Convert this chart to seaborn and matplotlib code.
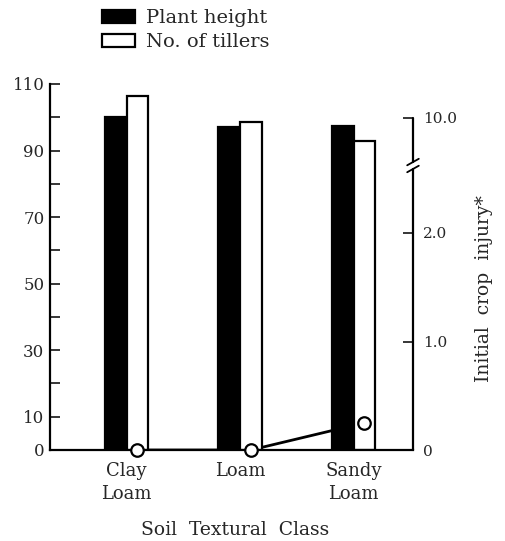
import numpy as np
import pandas as pd
import matplotlib
matplotlib.use("Agg")
import matplotlib.pyplot as plt
import seaborn as sns

# data
soils = ["Clay\nLoam", "Loam", "Sandy\nLoam"]
plant_height = [100, 97, 97.5]
tillers = [106.5, 98.5, 93]
injury = [0, 0, 0.25]
series = ["Plant height", "No. of tillers"]

df = pd.DataFrame({
    "soil": soils * 2,
    "value": plant_height + tillers,
    "series": [series[0]] * 3 + [series[1]] * 3,
})

sns.set_style("white")
plt.rcParams["font.family"] = ["DejaVu Serif"]
plt.rcParams["font.size"] = 12

fig = plt.figure(figsize=(5.05, 5.41), dpi=100)
ax1 = fig.add_axes([50 / 505, 91 / 541, 363 / 505, 366 / 541])
ax2 = ax1.twinx()

bar_w = 0.38
sns.barplot(
    data=df, x="soil", y="value", hue="series", ax=ax1,
    palette={series[0]: "black", series[1]: "white"},
    saturation=1, width=bar_w, errorbar=None,
    edgecolor="black", linewidth=1.6,
)
handles, labels = ax1.get_legend_handles_labels()
ax1.get_legend().remove()

# left axis (bars) above right axis (line) so bars hide the line
ax2.set_zorder(1)
ax1.set_zorder(2)
ax1.patch.set_visible(False)

ax1.set_xlim(-0.674, 2.524)
ax1.set_ylim(0, 110)
ax1.set_yticks([0, 10, 30, 50, 70, 90, 110])
ax1.set_yticks([20, 40, 60, 80, 100], minor=True)
ax1.tick_params(axis="y", which="both", direction="in", length=7, width=1.3,
                left=True, pad=4, labelsize=12)
ax1.tick_params(axis="x", length=0, pad=9, labelsize=13)
for t in ax1.get_xticklabels():
    t.set_linespacing(1.3)
ax1.set_ylabel("")
ax1.set_xlabel("Soil  Textural  Class", fontsize=13.5)
ax1.xaxis.set_label_coords(0.51, -0.195)
for s in ["top", "right"]:
    ax1.spines[s].set_visible(False)
for s in ["left", "bottom"]:
    ax1.spines[s].set_linewidth(1.6)
    ax1.spines[s].set_color("black")

# line of injury scores on the right axis
x_line = np.arange(len(soils)) + bar_w / 4
ax2.plot(x_line, injury, color="black", lw=2, zorder=1)

ax2.set_ylim(0, 366 / 108.5)
ax2.set_yticks([0, 1, 2, 3.06])
ax2.set_yticklabels(["0", "1.0", "2.0", "10.0"])
ax2.tick_params(axis="y", direction="in", length=7, width=1.3, pad=7, labelsize=11)
for s in ["top", "left", "bottom", "right"]:
    ax2.spines[s].set_visible(False)
ax2.set_ylabel("Initial  crop  injury*", fontsize=13.5)
ax2.yaxis.set_label_coords(1.17, 0.44)

# broken right spine
tr = ax2.get_yaxis_transform()
ax2.plot([1, 1], [0, 2.59], color="black", lw=1.6, transform=tr, clip_on=False)
ax2.plot([1, 1], [2.654, 3.06], color="black", lw=1.6, transform=tr, clip_on=False)
for yb in [2.59, 2.654]:
    ax2.plot([1 - 0.016, 1 + 0.016], [yb - 0.03, yb + 0.03], color="black", lw=1.3,
             transform=tr, clip_on=False)

# hollow markers drawn on top of the bars
ax3 = ax1.twinx()
ax3.set_zorder(3)
ax3.patch.set_visible(False)
ax3.set_ylim(ax2.get_ylim())
ax3.axis("off")
ax3.plot(x_line, injury, ls="none", marker="o", ms=9, mfc="white", mec="black",
         mew=1.6, clip_on=False)

fig.legend(handles, labels, loc="upper left", bbox_to_anchor=(0.186, 0.997),
           frameon=False, borderaxespad=0, prop={"size": 14}, handlelength=1.7,
           handleheight=0.62, handletextpad=0.6, labelspacing=0.3)

fig.savefig("out.png", dpi=100, facecolor="white")
